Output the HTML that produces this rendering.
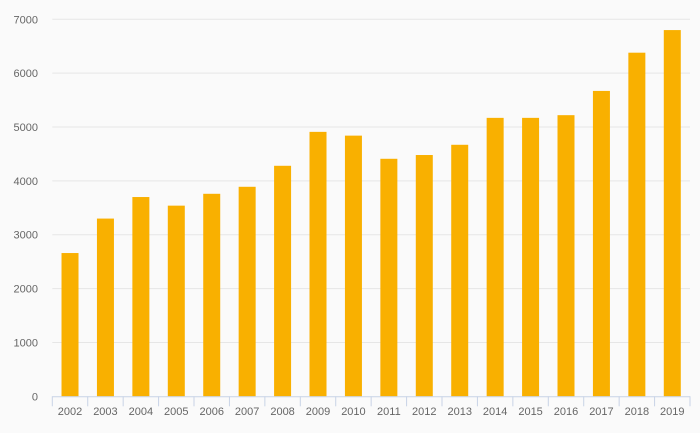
<!DOCTYPE html>
<html><head><meta charset="utf-8"><style>
html,body{margin:0;padding:0;background:#fafafa;}
svg{display:block;font-family:"Liberation Sans",sans-serif;}
</style></head><body>
<svg id="chart" width="700" height="433"></svg>
<script>
const categories=["2002","2003","2004","2005","2006","2007","2008","2009","2010","2011","2012","2013","2014","2015","2016","2017","2018","2019"];
const values=[2660,3300,3700,3540,3760,3890,4280,4910,4840,4410,4480,4670,5170,5170,5220,5670,6380,6800];
const yTicks=[0,1000,2000,3000,4000,5000,6000,7000];
const NS="http://www.w3.org/2000/svg";
const svg=document.getElementById('chart');
const x0=52.3,x1=690,yBase=396.3,yTop=19.3,yMax=7000;
const band=(x1-x0)/categories.length;
function y(v){return yBase-(v/yMax)*(yBase-yTop);}
function xc(i){return x0+band*(i+0.5);}
function mk(t,a){const e=document.createElementNS(NS,t);for(const k in a)e.setAttribute(k,a[k]);svg.appendChild(e);return e;}
yTicks.forEach(v=>{
  if(v>0){const g=mk('line',{x1:x0,x2:x1,y1:y(v),y2:y(v),stroke:'#e6e6e6','stroke-width':1});
  
  }
  const t=mk('text',{x:38,y:y(v)+4,'text-anchor':'end','font-size':11,fill:'#666'});
  t.textContent=v;
  
  
});
values.forEach((v,i)=>{
  const r=mk('rect',{x:xc(i)-8.5,y:y(v),width:17,height:yBase-y(v),fill:'#f9b000'});
  
  
  const t=mk('text',{x:xc(i),y:415,'text-anchor':'middle','font-size':11,fill:'#666'});
  t.textContent=categories[i];
  
  
});
const ax=mk('line',{x1:x0,x2:x1,y1:yBase+0.5,y2:yBase+0.5,stroke:'#c8d3e6','stroke-width':1});


for(let i=0;i<=categories.length;i++){
  const tk=mk('line',{x1:x0+band*i,x2:x0+band*i,y1:yBase,y2:yBase+10,stroke:'#c8d3e6','stroke-width':1});
  
  
}
</script>
</body></html>
